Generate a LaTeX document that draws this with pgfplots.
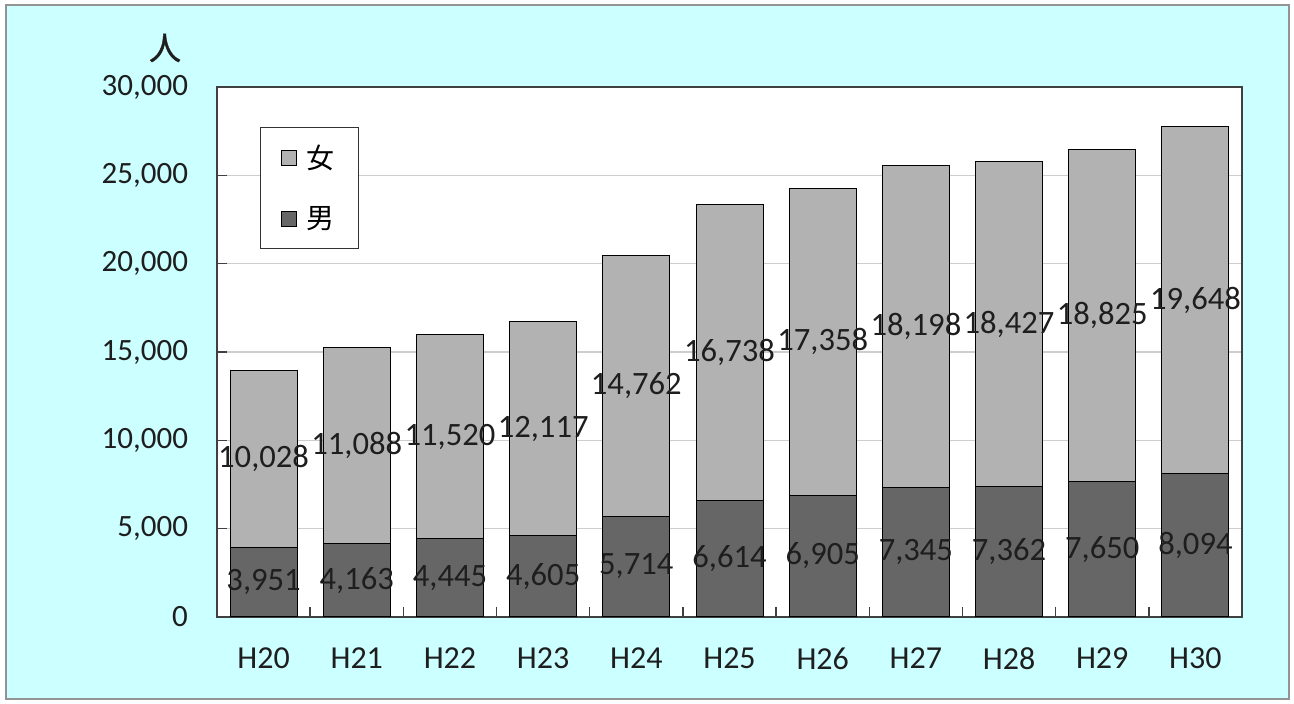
\documentclass[border=0pt]{standalone}
\usepackage{pgfplots}
\pgfplotsset{compat=1.18}
\usepackage{pgfplotstable}
\usepackage{fontspec}
\setmainfont{Carlito}
\newfontfamily\cjk{Noto Sans CJK JP}
\newfontfamily\cjkb[FakeBold=1.2]{Noto Sans CJK JP}
\definecolor{bgcyan}{RGB}{204,255,255}
\definecolor{darkbar}{RGB}{102,102,102}
\definecolor{lightbar}{RGB}{178,178,178}
\definecolor{txt}{RGB}{30,30,30}
\definecolor{gridc}{RGB}{205,205,205}

\pgfplotstableread{
x m f
0 3951 10028
1 4163 11088
2 4445 11520
3 4605 12117
4 5714 14762
5 6614 16738
6 6905 17358
7 7345 18198
8 7362 18427
9 7650 18825
10 8094 19648
}\data

\pgfplotsset{
  sqlegend/.style={legend image code/.code={\draw[##1,draw=black,line width=0.5pt] (0pt,-3.75pt) rectangle (7.5pt,3.75pt);}},
}

\begin{document}
\begin{tikzpicture}
\fill[white] (0pt,0pt) rectangle (647pt,352pt);
\draw[fill=bgcyan, draw=gray!85, line width=1pt] (3pt,2.5pt) rectangle (644.5pt,349.5pt);
\node[font=\cjkb\fontsize{16}{18}\selectfont, text=txt] at (82.5pt,328pt) {人};
\begin{axis}[
  at={(108.5pt,43.5pt)}, anchor=south west,
  scale only axis, width=512.5pt, height=265pt,
  xmin=-0.5, xmax=10.5, ymin=0, ymax=30000,
  axis background/.style={fill=white},
  axis line style={draw=black!75, line width=0.7pt},
  ytick={0,5000,...,30000},
  scaled y ticks=false,
  ymajorgrids, grid style={gridc, line width=0.6pt},
  tick align=inside,
  xtick pos=bottom, ytick pos=left,
  major tick length=5pt, minor tick length=5pt,
  tick style={black!75, line width=0.7pt},
  xtick={0.5,1.5,...,9.5}, xticklabels={},
  extra x ticks={0,1,...,10},
  extra x tick labels={H20,H21,H22,H23,H24,H25,H26,H27,H28,H29,H30},
  extra x tick style={major tick length=0pt, grid=none},
  tick label style={font=\fontsize{15.5}{18}\selectfont, text=txt},
  xticklabel style={yshift=-12pt, font=\fontsize{16}{18}\selectfont},
  yticklabel style={xshift=-11pt},
  /pgf/number format/.cd, 1000 sep={,}, assume math mode=true, /pgfplots/.cd,
  legend style={at={(0.042,0.9245)}, anchor=north west, draw=black!80, fill=white,
    font=\cjk\fontsize{14}{16}\selectfont, inner xsep=10pt, inner ysep=6.5pt,
    row sep=13.5pt, column sep=3pt, line width=0.6pt},
  legend cell align=left,
]
\addplot[ybar, bar width=33.5pt, fill=lightbar, draw=black, line width=0.5pt, sqlegend]
  table[x=x, y expr=\thisrow{m}+\thisrow{f}] {\data};
\addlegendentry{女}
\addplot[ybar, bar width=33.5pt, fill=darkbar, draw=black, line width=0.5pt, sqlegend]
  table[x=x, y=m] {\data};
\addlegendentry{男}
\addplot[draw=none, forget plot, nodes near coords, point meta=explicit,
  every node near coord/.append style={anchor=center, font=\fontsize{16.3}{18}\selectfont, text=txt}]
  table[x=x, y expr=\thisrow{m}/2, meta=m] {\data};
\addplot[draw=none, forget plot, nodes near coords, point meta=explicit,
  every node near coord/.append style={anchor=center, font=\fontsize{16.3}{18}\selectfont, text=txt}]
  table[x=x, y expr=\thisrow{m}+\thisrow{f}/2, meta=f] {\data};
\end{axis}
\end{tikzpicture}
\end{document}
